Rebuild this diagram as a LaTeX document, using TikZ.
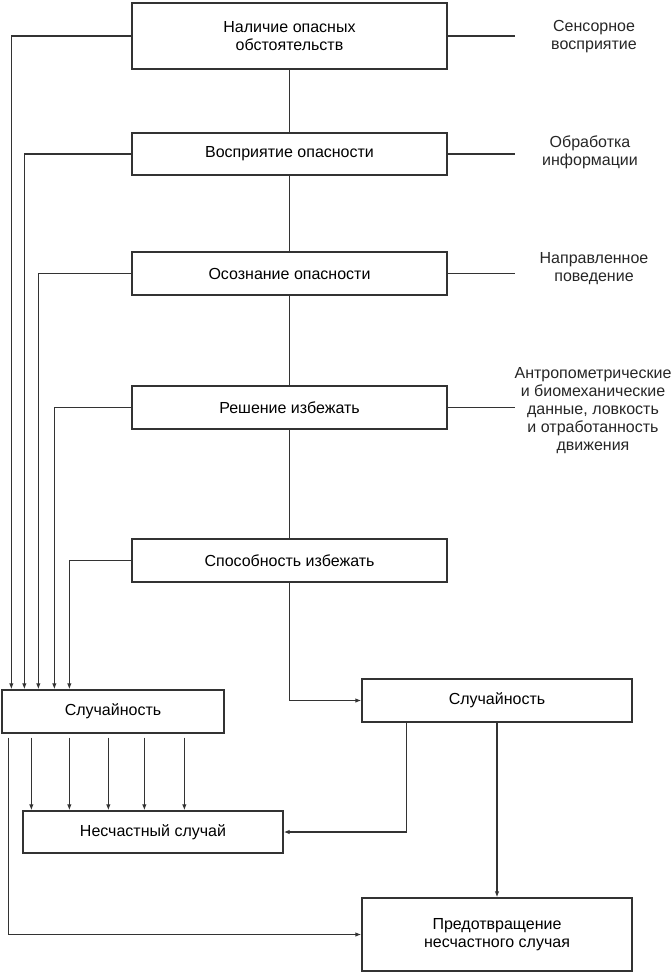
\documentclass[tikz,border=0pt]{standalone}
\usepackage{fontspec}
\setmainfont{Liberation Sans}
\usetikzlibrary{arrows.meta}
\begin{document}
\begin{tikzpicture}[x=1pt,y=-1pt,
  ln/.style={draw=black!80, line width=1.3pt},
  arr/.style={ln, -{Latex[length=6pt,width=4.5pt]}},
  box/.style={ln, fill=white, inner sep=0pt, font=\fontsize{16}{18.5}\selectfont, align=center},
  lbl/.style={inner sep=0pt, font=\fontsize{16}{18}\selectfont, align=center, text=black!85}]
\useasboundingbox (0,0) rectangle (671,973);
% main chain
\node[box, minimum width=315pt, minimum height=66pt] (b1) at (289.5,36) {Наличие опасных\\обстоятельств};
\node[box, minimum width=315pt, minimum height=42pt] (b2) at (289.5,154) {Восприятие опасности};
\node[box, minimum width=315pt, minimum height=43pt] (b3) at (289.5,273.5) {Осознание опасности};
\node[box, minimum width=315pt, minimum height=43pt] (b4) at (289.5,407.5) {Решение избежать};
\node[box, minimum width=315pt, minimum height=43pt] (b5) at (289.5,560.5) {Способность избежать};
\node[box, minimum width=222pt, minimum height=43pt] (sl) at (113,711.5) {Случайность};
\node[box, minimum width=260pt, minimum height=42pt] (ns) at (153,832) {Несчастный случай};
\node[box, minimum width=270pt, minimum height=43pt] (rs) at (497,700.5) {Случайность};
\node[box, minimum width=270pt, minimum height=73pt] (pr) at (497,934.5) {Предотвращение\\несчастного случая};
% right labels
\node[lbl] (l1) at (594,37) {Сенсорное\\восприятие};
\node[lbl] (l2) at (590,152) {Обработка\\информации};
\node[lbl] (l3) at (594,269) {Направленное\\поведение};
\node[lbl] (l4) at (593,411) {Антропометрические\\и биомеханические\\данные, ловкость\\и отработанность\\движения};
\coordinate (e1) at (515,36);
\coordinate (e2) at (515,154);
\coordinate (e3) at (515,273.5);
\coordinate (e4) at (515,407.5);
\draw[ln] (b1.east) -- (e1);
\draw[ln] (b2.east) -- (e2);
\draw[ln] (b3.east) -- (e3);
\draw[ln] (b4.east) -- (e4);
% vertical chain
\draw[ln] (b1.south) -- (b2.north);
\draw[ln] (b2.south) -- (b3.north);
\draw[ln] (b3.south) -- (b4.north);
\draw[ln] (b4.south) -- (b5.north);
\draw[arr] (b5.south) |- (rs.west);
% left feeders into Случайность
\draw[arr] (b1.west) -| ([xshift=10pt]sl.north west);
\draw[arr] (b2.west) -| ([xshift=23pt]sl.north west);
\draw[arr] (b3.west) -| ([xshift=37pt]sl.north west);
\draw[arr] (b4.west) -| ([xshift=53pt]sl.north west);
\draw[arr] (b5.west) -| ([xshift=68pt]sl.north west);
% Случайность to Несчастный случай
\foreach \xx in {30,68,107,143,183}
  \draw[arr, shorten <=4pt] ([xshift=\xx pt]sl.south west) -- ([xshift=\xx pt]sl.south west |- ns.north);
% Случайность to Предотвращение
\draw[arr, shorten <=4pt] ([xshift=7pt]sl.south west) |- (pr.west);
% right Случайность
\draw[arr] ([xshift=45pt]rs.south west) |- (ns.east);
\draw[arr] (rs.south) -- (pr.north);
\end{tikzpicture}
\end{document}
